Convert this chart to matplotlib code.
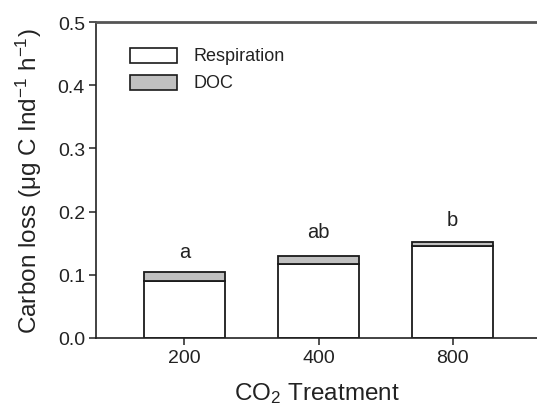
import matplotlib
matplotlib.use("Agg")
import matplotlib.pyplot as plt
from matplotlib.patches import Rectangle

categories = ["200", "400", "800"]
respiration = [0.090, 0.117, 0.146]
doc = [0.014, 0.013, 0.006]
letters = ["a", "ab", "b"]
letter_y = [0.128, 0.160, 0.179]

plt.rcParams['font.family'] = ['Liberation Sans', 'DejaVu Sans']
plt.rcParams['mathtext.fontset'] = 'custom'
plt.rcParams['mathtext.rm'] = 'Liberation Sans'
plt.rcParams['mathtext.it'] = 'Liberation Sans:italic'
plt.rcParams['mathtext.bf'] = 'Liberation Sans:bold'

fig = plt.figure(figsize=(5.37, 4.10), dpi=100)
ax = fig.add_axes([96/537, 71/410, 441/537, 316/410])

x = list(range(len(categories)))
ec = '#1a1a1a'
ax.bar(x, respiration, width=0.6, color='white', edgecolor=ec, linewidth=1.3)
ax.bar(x, doc, width=0.6, bottom=respiration, color='#c0c0c0', edgecolor=ec, linewidth=1.3)

for xi, lt, ly in zip(x, letters, letter_y):
    ax.text(xi, ly, lt, ha='center', va='baseline', fontsize=14.5, color='#222222')

ax.set_xlim(-0.66, 2.63)
ax.set_ylim(0, 0.5)
ax.set_xticks(x)
ax.set_xticklabels(categories)
ax.set_yticks([0.0, 0.1, 0.2, 0.3, 0.4, 0.5])
ax.set_yticklabels(["0.0", "0.1", "0.2", "0.3", "0.4", "0.5"])
ax.tick_params(axis='both', direction='out', length=5, width=1.1, labelsize=14, pad=3, colors='#222222')

ax.spines['right'].set_visible(False)
ax.spines['top'].set_color('#555555')
ax.spines['top'].set_linewidth(2.0)
for s in ['left', 'bottom']:
    ax.spines[s].set_color('#222222')
    ax.spines[s].set_linewidth(1.2)

ax.set_xlabel("CO$_\\mathrm{2}$ Treatment", fontsize=17.5, labelpad=10, color='#222222')
ax.set_ylabel("Carbon loss (\u03bcg C Ind$^{\\mathrm{-1}}$ h$^{\\mathrm{-1}}$)", fontsize=17.5,
              labelpad=10, color='#222222')

# legend
leg_items = [("Respiration", 'white'), ("DOC", '#c0c0c0')]
ys = [0.870, 0.785]
for (lab, col), yb in zip(leg_items, ys):
    ax.add_patch(Rectangle((0.077, yb), 0.107, 0.047, transform=ax.transAxes,
                           facecolor=col, edgecolor=ec, linewidth=1.2, clip_on=False))
    ax.text(0.220, yb + 0.0235, lab, transform=ax.transAxes, va='center', ha='left',
            fontsize=13, color='#222222')

fig.savefig("out.png", dpi=100)
